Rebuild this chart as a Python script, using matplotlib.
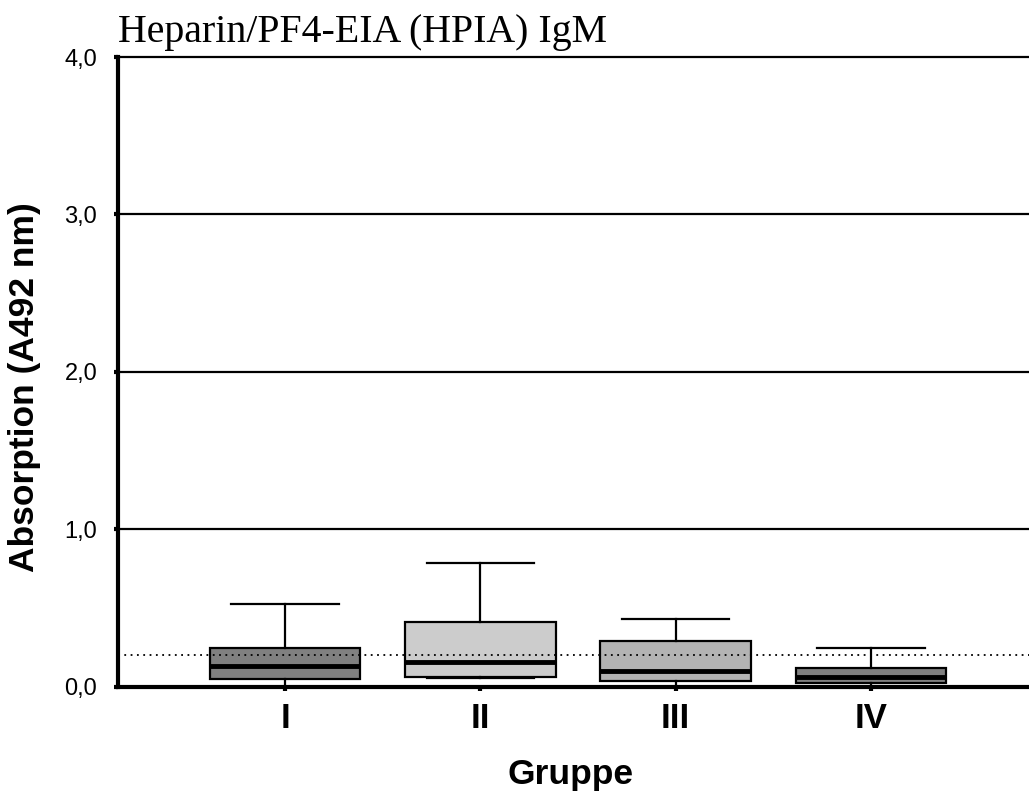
import matplotlib
matplotlib.use("Agg")
import matplotlib.pyplot as plt

groups = ["I", "II", "III", "IV"]
whisker_low = [0.0, 0.057, 0.0, 0.0]
q1 = [0.05, 0.063, 0.038, 0.025]
median = [0.133, 0.16, 0.10, 0.063]
q3 = [0.248, 0.413, 0.292, 0.12]
whisker_high = [0.527, 0.787, 0.43, 0.248]
box_colors = ["#808080", "#cccccc", "#b3b3b3", "#808080"]
cutoff = 0.2

plt.rcParams["font.family"] = ["Liberation Sans", "DejaVu Sans"]

stats = []
for g, lo, a, m, b, hi in zip(groups, whisker_low, q1, median, q3, whisker_high):
    stats.append({"label": g, "whislo": lo, "q1": a, "med": m, "q3": b, "whishi": hi})

fig = plt.figure(figsize=(10.29, 7.94), dpi=100)
ax = fig.add_axes([0.1147, 0.1348, 0.8853, 0.7934])

positions = list(range(1, len(groups) + 1))
bp = ax.bxp(stats, positions=positions, widths=0.77, patch_artist=True,
            showfliers=False,
            boxprops=dict(linewidth=1.6, edgecolor="black"),
            medianprops=dict(color="black", linewidth=3.5),
            whiskerprops=dict(color="black", linewidth=1.6),
            capprops=dict(color="black", linewidth=1.6),
            capwidths=0.55, zorder=3)
for patch, c in zip(bp["boxes"], box_colors):
    patch.set_facecolor(c)

for y in [1, 2, 3, 4]:
    ax.axhline(y, color="black", linewidth=1.6, zorder=1, clip_on=False)
ax.axhline(cutoff, color="black", linewidth=1.3, linestyle=(0, (1, 2.5)), zorder=4)

ax.set_xlim(0.144, 4.81)
ax.set_ylim(0, 4.0)
ax.set_yticks([0, 1, 2, 3, 4])
ax.set_yticklabels(["0,0", "1,0", "2,0", "3,0", "4,0"], fontsize=17)
ax.set_xticks(positions)
ax.set_xticklabels(groups, fontsize=25, fontweight="bold")
ax.tick_params(axis="x", length=3, width=3, pad=8)
ax.tick_params(axis="y", length=3, width=3, pad=12)

for s in ["top", "right"]:
    ax.spines[s].set_visible(False)
ax.spines["left"].set_linewidth(3)
ax.spines["bottom"].set_linewidth(3)

fig.text(25 / 1029, 0.5126, "Absorption (A492 nm)", rotation=90, fontsize=25.5,
         fontweight="bold", ha="center", va="center")
fig.text(0.554, 0.024, "Gruppe", fontsize=25.5, fontweight="bold",
         ha="center", va="center")
fig.text(0.1147, 1 - 42 / 794, "Heparin/PF4-EIA (HPIA) IgM", fontsize=28.7,
         family="Liberation Serif", ha="left", va="baseline")

fig.savefig("out.png", dpi=100)
